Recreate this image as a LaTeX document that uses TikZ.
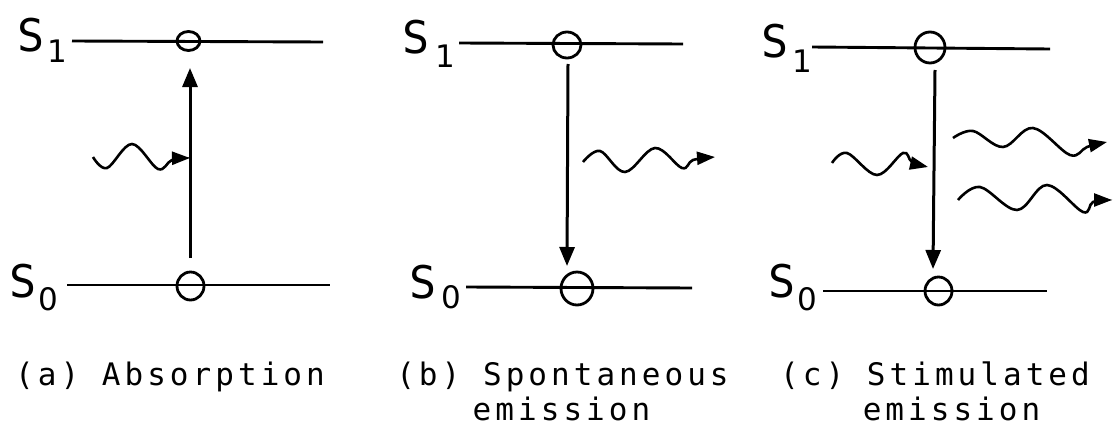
\documentclass[tikz,border=0pt]{standalone}
\usepackage{fontspec}
\usetikzlibrary{arrows.meta,shapes.geometric}
\newfontfamily\plotfont[LetterSpace=13]{DejaVu Sans Mono}
\newfontfamily\labfont{DejaVu Sans Mono}
\newfontfamily\digfont{DejaVu Sans}
\tikzset{
  level/.style={line width=2.9pt},
  trans/.style={line width=3pt,-{Triangle[length=19pt,width=15pt]}},
  photon/.style={line width=2.6pt,-{Triangle[length=18pt,width=13pt]}},
  pop/.style={draw,ellipse,line width=2.8pt,inner sep=0pt,fill=none},
  slab/.style={inner sep=0pt,anchor=base,font=\labfont\fontsize{45}{45}\selectfont},
  sidx/.style={inner sep=0pt,anchor=base,font=\digfont\fontsize{31}{31}\selectfont},
  captxt/.style={inner sep=0pt,anchor=base,font=\plotfont\fontsize{31}{31}\selectfont},
}
\begin{document}
\begin{tikzpicture}[x=1pt,y=-1pt]
\useasboundingbox (0,0) rectangle (1113,428);
% ---------- (a) ----------
\coordinate (aS1l) at (72,41); \coordinate (aS1r) at (323,42);
\coordinate (aS0l) at (67,285); \coordinate (aS0r) at (330,285);
\draw[level] (aS1l) -- (aS1r);
\draw[level] (aS0l) -- (aS0r);
\node[pop,minimum width=23pt,minimum height=19pt] (aTop) at (188.5,41) {};
\node[pop,minimum width=27pt,minimum height=28pt] (aBot) at (190.5,286) {};
\node[slab] (aS1) at (31,52) {S};
\node[sidx] (aS1i) at (57,63) {1};
\node[slab] (aS0) at (23,297) {S};
\node[sidx] (aS0i) at (48.5,310) {0};
\coordinate (aUp0) at (190,258); \coordinate (aUp1) at (190,68);
\draw[trans] (aUp0) -- (aUp1);
\draw[photon] plot[smooth,tension=0.6] coordinates {(93,157) (107,168) (132,144) (158,169) (172,160) (190,158)};
% ---------- (b) ----------
\coordinate (bS1l) at (459,43); \coordinate (bS1r) at (683,44);
\coordinate (bS0l) at (466,287); \coordinate (bS0r) at (692,288);
\draw[level] (bS1l) -- (bS1r);
\draw[level] (bS0l) -- (bS0r);
\node[pop,minimum width=28pt,minimum height=26pt] (bTop) at (567,45) {};
\node[pop,minimum width=32pt,minimum height=33pt] (bBot) at (577,288.5) {};
\node[slab] (bS1) at (416,54) {S};
\node[sidx] (bS1i) at (445,67) {1};
\node[slab] (bS0) at (423,298) {S};
\node[sidx] (bS0i) at (451.5,308) {0};
\coordinate (bDn0) at (568,64); \coordinate (bDn1) at (567,266);
\draw[trans] (bDn0) -- (bDn1);
\draw[photon] plot[smooth,tension=0.6] coordinates {(583,162) (600,151) (625,172) (655,148) (682,168) (693,160) (715,157)};
% ---------- (c) ----------
\coordinate (cS1l) at (812,47); \coordinate (cS1r) at (1050,49);
\coordinate (cS0l) at (823,291); \coordinate (cS0r) at (1047,291);
\draw[level] (cS1l) -- (cS1r);
\draw[level] (cS0l) -- (cS0r);
\node[pop,minimum width=30pt,minimum height=31pt] (cTop) at (930,47.5) {};
\node[pop,minimum width=27pt,minimum height=28pt] (cBot) at (938.5,291) {};
\node[slab] (cS1) at (775,58) {S};
\node[sidx] (cS1i) at (802.5,73) {1};
\node[slab] (cS0) at (782.5,297) {S};
\node[sidx] (cS0i) at (807.5,310) {0};
\coordinate (cDn0) at (935,70); \coordinate (cDn1) at (933,269);
\draw[trans] (cDn0) -- (cDn1);
\draw[photon] plot[smooth,tension=0.6] coordinates {(832,163) (847,153) (877,175) (903,153) (912,162) (928,167)};
\draw[photon] plot[smooth,tension=0.6] coordinates {(953,138) (973,131) (1003,147) (1033,128) (1070,155) (1087,147) (1107,142)};
\draw[photon] plot[smooth,tension=0.6] coordinates {(958,200) (980,187) (1017,210) (1047,185) (1083,212) (1093,202) (1112,200)};
% ---------- captions ----------
\node[captxt] (capA) at (170,385) {(a) Absorption};
\node[captxt] (capB) at (562.5,385) {(b) Spontaneous};
\node[captxt] (capB2) at (561.5,420) {emission};
\node[captxt] (capC) at (935,385) {(c) Stimulated};
\node[captxt] (capC2) at (951.5,420) {emission};
\end{tikzpicture}
\end{document}
